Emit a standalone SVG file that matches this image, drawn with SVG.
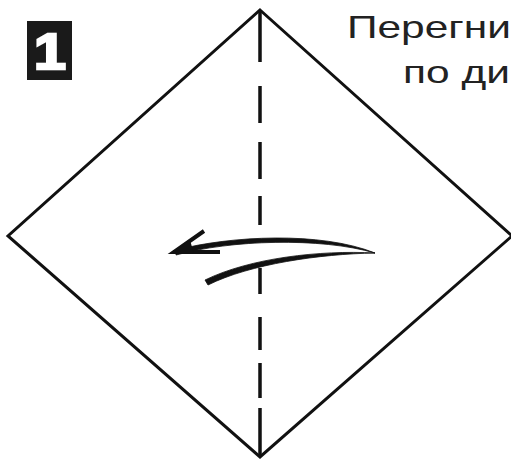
<svg xmlns="http://www.w3.org/2000/svg" width="511" height="460" viewBox="0 0 511 460">
<style>
.edge{fill:none;stroke:#111;stroke-width:3;stroke-linejoin:miter}
.fold{fill:none;stroke:#111;stroke-width:3.5;stroke-linecap:butt}
.ink{fill:#111;stroke:#111;stroke-width:0.8;stroke-linejoin:round}
.lbl{font-family:"Liberation Sans",Arial,sans-serif;font-size:31px;fill:#222}
</style>
<rect width="511" height="460" fill="#fff"/>
<g id="step-badge">
<rect x="27" y="21" width="45" height="59" fill="#1a1a1a"/>
<text x="50" y="69" text-anchor="middle" transform="translate(50 0) scale(1.15 1) translate(-50 0)" font-family="Liberation Sans, Arial, sans-serif" font-weight="bold" font-size="50" fill="#fff" stroke="#fff" stroke-width="2.5">1</text>
</g>
<g id="paper-square">
<polygon class="edge" points="260,10 512,236 260,457 8,236"/>
</g>
<g id="fold-line">
<path class="fold" d="M260 10V62M260 86V123M260 142V179M260 196V225M260 268V294M260 317V350M260 363V398M260 408V457"/>
</g>
<g id="connectors">
<path class="ink" d="M176 250 C230 236 320 231 375 253 C320 237 230 240 176 255 Z"/>
<path class="ink" d="M375 253 C320 250 250 258 205 280 L208 285 C250 264 320 254 375 253 Z"/>
<path fill="none" stroke="#111" stroke-width="4" stroke-linejoin="miter" d="M204 231 L174 252 L220 252"/>
<polygon points="173,253 190,240 194,254" fill="#111"/>
</g>
<g id="caption">
<text class="lbl" x="0" y="38" transform="translate(347 0) scale(1.37 1)">Перегни</text>
<text class="lbl" x="0" y="83" transform="translate(403 0) scale(1.37 1)">по ди</text>
</g>
</svg>
